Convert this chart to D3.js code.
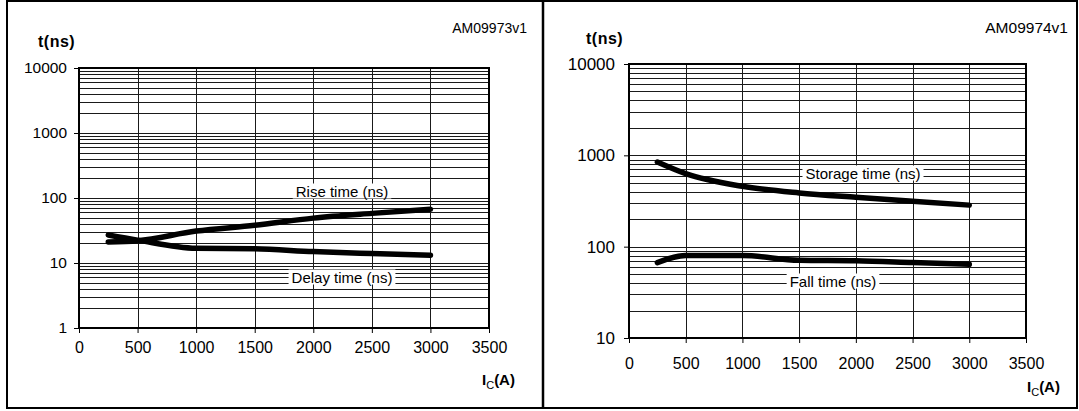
<!DOCTYPE html>
<html>
<head>
<meta charset="utf-8">
<script src="https://cdn.jsdelivr.net/npm/d3@7"></script>
<style>
  html, body { margin: 0; padding: 0; background: #fff; }
  svg { display: block; font-family: "Liberation Sans", Arial, sans-serif; }
</style>
</head>
<body>
<div id="chart"></div>
<script>
// collector current, A
const currents = [250, 500, 1000, 1500, 2000, 2500, 3000];

// switching times, ns
const riseTime = [21, 22, 31, 38, 49, 58, 67];
const delayTime = [27, 22.5, 16.8, 16.5, 15, 14, 13.2];
const storageTime = [845, 630, 458, 387, 347, 315, 285];
const fallTime = [67, 80, 80, 71, 70, 67, 64];

const xTicks = [0, 500, 1000, 1500, 2000, 2500, 3000, 3500];
const leftYTicks = [1, 10, 100, 1000, 10000];
const rightYTicks = [10, 100, 1000, 10000];

const width = 1079, height = 411;

const svg = d3.select("#chart").append("svg")
    .attr("width", width)
    .attr("height", height);

// outer frame + divider
svg.append("rect")
    .attr("x", 7).attr("y", 1)
    .attr("width", 1070).attr("height", 407)
    .attr("fill", "none")
    .attr("stroke", "#000")
    .attr("stroke-width", 2);
svg.append("line")
    .attr("x1", 543).attr("x2", 543)
    .attr("y1", 0).attr("y2", 409)
    .attr("stroke", "#000")
    .attr("stroke-width", 2.5);

// one log/linear panel
function drawPanel(cfg) {
  const x = d3.scaleLinear().domain([0, 3500]).range([cfg.left, cfg.right]);
  const y = d3.scaleLog().domain(cfg.yDomain).range([cfg.bottom, cfg.top]);

  const g = svg.append("g");

  // minor + major horizontal grid
  const lo = Math.log10(cfg.yDomain[0]), hi = Math.log10(cfg.yDomain[1]);
  const hLines = [];
  for (let e = lo; e < hi; e++) {
    for (let m = 1; m < 10; m++) hLines.push(m * Math.pow(10, e));
  }
  hLines.push(cfg.yDomain[1]);

  g.append("g")
      .attr("stroke", "#1a1a1a")
      .attr("stroke-width", 1)
      .attr("shape-rendering", "crispEdges")
    .selectAll("line")
    .data(hLines)
    .join("line")
      .attr("x1", cfg.left).attr("x2", cfg.right)
      .attr("y1", d => Math.round(y(d)) + 0.5)
      .attr("y2", d => Math.round(y(d)) + 0.5);

  g.append("g")
      .attr("stroke", "#1a1a1a")
      .attr("stroke-width", 1)
      .attr("shape-rendering", "crispEdges")
    .selectAll("line")
    .data(xTicks.slice(1, -1))
    .join("line")
      .attr("x1", d => Math.round(x(d)) + 0.5)
      .attr("x2", d => Math.round(x(d)) + 0.5)
      .attr("y1", cfg.top).attr("y2", cfg.bottom);

  // plot frame
  g.append("rect")
      .attr("x", cfg.left).attr("y", cfg.top)
      .attr("width", cfg.right - cfg.left)
      .attr("height", cfg.bottom - cfg.top)
      .attr("fill", "none")
      .attr("stroke", "#000")
      .attr("stroke-width", 2);

  // axes
  const yAxis = d3.axisLeft(y)
      .tickValues(cfg.yTicks)
      .tickFormat(d3.format("d"))
      .tickSize(5)
      .tickPadding(cfg.yPad);
  const ya = g.append("g")
      .attr("transform", `translate(${cfg.left},0)`)
      .call(yAxis);
  ya.select(".domain").remove();
  ya.selectAll("text")
      .attr("font-size", cfg.yFont)
      .attr("fill", "#000")
      .attr("font-family", "Liberation Sans, Arial, sans-serif");

  const xAxis = d3.axisBottom(x)
      .tickValues(xTicks)
      .tickFormat(d3.format("d"))
      .tickSize(5)
      .tickPadding(cfg.xPad);
  const xa = g.append("g")
      .attr("transform", `translate(0,${cfg.bottom})`)
      .call(xAxis);
  xa.select(".domain").remove();
  xa.selectAll("text")
      .attr("font-size", 16)
      .attr("fill", "#000")
      .attr("font-family", "Liberation Sans, Arial, sans-serif");

  // curves
  const line = d3.line()
      .x((d, i) => x(currents[i]))
      .y(d => y(d))
      .curve(d3.curveMonotoneX);

  cfg.series.forEach(s => {
    g.append("path")
        .datum(s.values)
        .attr("d", line)
        .attr("fill", "none")
        .attr("stroke", "#000")
        .attr("stroke-width", 5.5)
        .attr("stroke-linecap", "round")
        .attr("stroke-linejoin", "round");
  });

  // curve labels on white boxes
  cfg.series.forEach(s => {
    const t = g.append("text")
        .attr("x", s.lx).attr("y", s.ly)
        .attr("text-anchor", "middle")
        .attr("dominant-baseline", "central")
        .attr("font-size", 15)
        .text(s.name);
    const bb = t.node().getBBox();
    g.insert("rect", () => t.node())
        .attr("x", bb.x - 3).attr("y", bb.y + 1)
        .attr("width", bb.width + 6).attr("height", bb.height - 2)
        .attr("fill", "#fff");
  });

  // titles
  g.append("text")
      .attr("x", cfg.tx).attr("y", cfg.ty)
      .attr("font-size", 16)
      .attr("font-weight", "bold")
      .attr("letter-spacing", 0.5)
      .text("t(ns)");

  g.append("text")
      .attr("x", cfg.codeX).attr("y", cfg.codeY)
      .attr("text-anchor", "end")
      .attr("font-size", cfg.codeFont)
      .text(cfg.code);

  const ic = g.append("text")
      .attr("x", cfg.icX).attr("y", cfg.icY)
      .attr("font-size", 15)
      .attr("font-weight", "bold");
  ic.append("tspan").text("I");
  ic.append("tspan").attr("dy", 4).attr("font-size", 11).attr("font-weight", "normal").text("C");
  ic.append("tspan").attr("dy", -4).text("(A)");
}

drawPanel({
  left: 79, right: 489, top: 68, bottom: 328,
  yDomain: [1, 10000], yTicks: leftYTicks, yFont: 15.5, yPad: 7, xPad: 9,
  tx: 38, ty: 47,
  code: "AM09973v1", codeX: 527, codeY: 33, codeFont: 14,
  icX: 482, icY: 385,
  series: [
    { name: "Rise time (ns)", values: riseTime, lx: 342, ly: 191 },
    { name: "Delay time (ns)", values: delayTime, lx: 342, ly: 277 }
  ]
});

drawPanel({
  left: 629, right: 1026, top: 64, bottom: 338,
  yDomain: [10, 10000], yTicks: rightYTicks, yFont: 17, yPad: 9, xPad: 15,
  tx: 586, ty: 44,
  code: "AM09974v1", codeX: 1068, codeY: 33, codeFont: 15.5,
  icX: 1027, icY: 392,
  series: [
    { name: "Storage time (ns)", values: storageTime, lx: 863, ly: 173 },
    { name: "Fall time (ns)", values: fallTime, lx: 833, ly: 281 }
  ]
});
</script>
</body>
</html>
